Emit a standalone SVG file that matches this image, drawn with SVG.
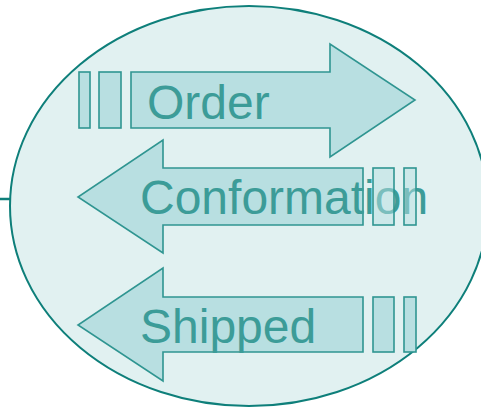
<svg xmlns="http://www.w3.org/2000/svg" width="481" height="408" viewBox="0 0 481 408">
<style>
.arr{fill:#b8dfe1;stroke:#2f9591;stroke-width:1.6;stroke-linejoin:miter}
.lbl{font-family:"Liberation Sans",Arial,sans-serif;font-size:48px;fill:#3c9c98}
</style>
<rect width="481" height="408" fill="#ffffff"/>
<g id="connectors">
<line x1="0" y1="199" x2="11" y2="199" stroke="#0e7f7a" stroke-width="2.5"/>
</g>
<g id="ellipse">
<ellipse cx="249" cy="206" rx="239" ry="200" fill="#e1f1f1" stroke="#0e7f7a" stroke-width="2"/>
</g>
<g id="order">
<rect class="arr" x="79" y="72" width="11" height="56"/>
<rect class="arr" x="99" y="72" width="22" height="56"/>
<polygon class="arr" points="131,72 330,72 330,44 415,100 330,157 330,128 131,128"/>
<text class="lbl" x="147" y="119">Order</text>
</g>
<g id="conformation">
<polygon class="arr" points="363,168 163,168 163,140 78,197 163,253 163,225 363,225"/>
<text class="lbl" x="140" y="214">Conformation</text>
<rect class="arr" x="373" y="168" width="21" height="57" fill-opacity="0.5"/>
<rect class="arr" x="404" y="168" width="12" height="57" fill-opacity="0.5"/>
</g>
<g id="shipped">
<polygon class="arr" points="363,297 163,297 163,268 78,325 163,381 163,352 363,352"/>
<rect class="arr" x="373" y="297" width="21" height="55"/>
<rect class="arr" x="404" y="297" width="12" height="55"/>
<text class="lbl" x="140" y="343">Shipped</text>
</g>
</svg>
